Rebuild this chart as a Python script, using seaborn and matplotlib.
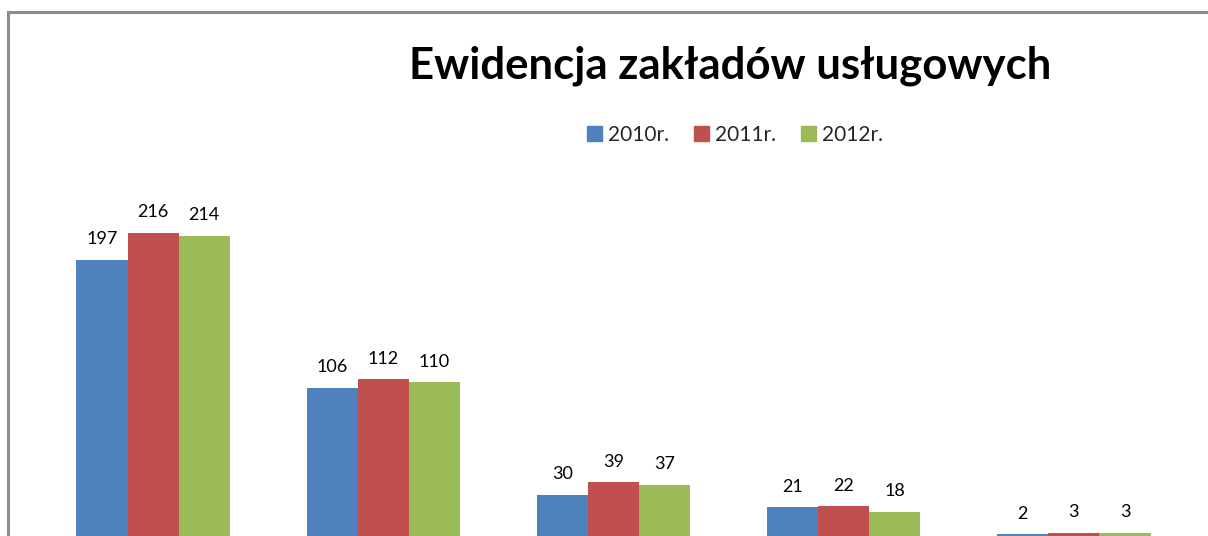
import pandas as pd
import matplotlib
matplotlib.use('Agg')
import matplotlib.pyplot as plt
import seaborn as sns
from matplotlib.patches import Rectangle

# data (category names are cut off in the picture)
categories = ['Grupa 1', 'Grupa 2', 'Grupa 3', 'Grupa 4', 'Grupa 5']
years = ['2010r.', '2011r.', '2012r.']
values_2010 = [197, 106, 30, 21, 2]
values_2011 = [216, 112, 39, 22, 3]
values_2012 = [214, 110, 37, 18, 3]
colors = ['#4F81BD', '#C0504D', '#9BBB59']

df = pd.DataFrame({
    'kategoria': categories * 3,
    'rok': [y for y in years for _ in categories],
    'liczba': values_2010 + values_2011 + values_2012,
})

sns.set_theme(style='white')
plt.rcParams['font.family'] = ['Lato', 'DejaVu Sans']

fig = plt.figure(figsize=(12.08, 5.36), dpi=100)
fig.patch.set_facecolor('white')

# chart-area frame (only left and top edges visible in the crop)
W, H = 1208, 536
fig.patches.append(Rectangle((8 / W, -0.05), 1.2, 1 - 12 / H + 0.05,
                             transform=fig.transFigure, fill=False,
                             edgecolor='#8c8c8c', linewidth=2.2, zorder=0))

ax = fig.add_axes([38 / W, -1 / H, 1151 / W, (537 - 185) / H])
sns.barplot(data=df, x='kategoria', y='liczba', hue='rok', palette=colors,
            width=0.667, saturation=1, ax=ax, legend=False, edgecolor='none')
ax.set_xlim(-0.5, 4.5)
ax.set_ylim(0, 250)
ax.axis('off')

for cont in ax.containers:
    ax.bar_label(cont, padding=9, fontsize=13, color='black')

# title and legend (centred to the right of the plot centre, as in the original)
fig.text(730 / W, 1 - 66 / H, 'Ewidencja zakładów usługowych', ha='center', va='center',
         fontsize=31.5, fontweight='bold', color='black')

handles = [Rectangle((0, 0), 1, 1, color=c) for c in colors]
fig.legend(handles, years, loc='center', bbox_to_anchor=(735 / W, 1 - 135 / H), ncol=3,
           frameon=False, fontsize=15, handlelength=0.7, handleheight=0.7,
           handletextpad=0.3, columnspacing=1.2)

fig.savefig('out.png', dpi=100)
